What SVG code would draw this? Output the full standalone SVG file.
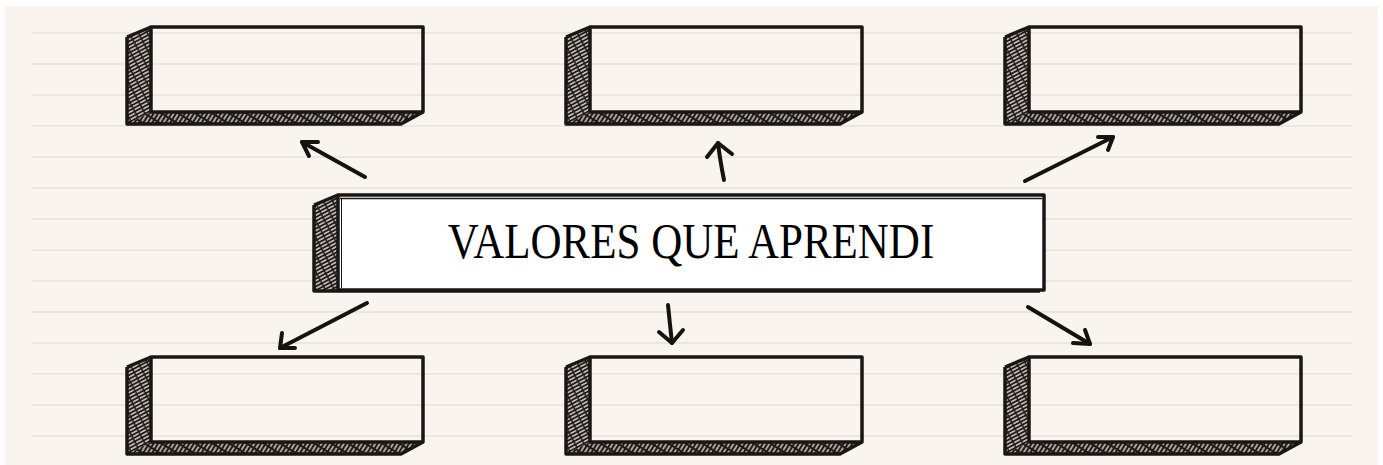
<svg xmlns="http://www.w3.org/2000/svg" xmlns:xlink="http://www.w3.org/1999/xlink" width="1383" height="465" viewBox="0 0 1383 465">
<style>
.rule{stroke:#ece6dc;stroke-width:2}
.front{fill:none;stroke:#1a1614;stroke-width:3.5;stroke-linejoin:round}
.arrow{fill:none;stroke:#151210;stroke-width:4;stroke-linecap:round;stroke-linejoin:round}
.title{font-family:"Liberation Serif","Times New Roman",serif;font-size:43px;fill:#000}
</style>
<defs>
<pattern id="hatchSide" patternUnits="userSpaceOnUse" width="8" height="3.4" patternTransform="rotate(-28)">
<rect width="8" height="3.4" fill="#1e1a18"/>
<line x1="0" y1="1.7" x2="6.5" y2="1.7" stroke="#e2ddd6" stroke-width="1.4"/>
</pattern>
<pattern id="hatchBottom" patternUnits="userSpaceOnUse" width="9" height="3.8" patternTransform="rotate(-58)">
<rect width="9" height="3.8" fill="#1e1a18"/>
<line x1="0" y1="1.9" x2="7" y2="1.9" stroke="#dcd7d0" stroke-width="1.4"/>
</pattern>
<g id="box">
<polygon points="0,10 24,0 24,85 296,85 274,97 0,97" fill="url(#hatchSide)"/>
<polygon points="24,85 296,85 274,97 0,97" fill="url(#hatchBottom)"/>
<polyline points="0,10 24,0" class="front"/>
<polyline points="0,10 0,97 274,97 296,85" class="front" stroke-width="2.5"/>
<rect x="24" y="0" width="272" height="85" class="front" stroke-width="4"/>
</g>
</defs>
<rect width="1383" height="465" fill="#ffffff"/>
<rect x="5" y="6" width="1373" height="459" fill="#f9f5ee"/>
<g id="rules">
<line x1="32" y1="33" x2="1352" y2="33" class="rule"/>
<line x1="32" y1="64" x2="1352" y2="64" class="rule"/>
<line x1="32" y1="95" x2="1352" y2="95" class="rule"/>
<line x1="32" y1="126" x2="1352" y2="126" class="rule"/>
<line x1="32" y1="157" x2="1352" y2="157" class="rule"/>
<line x1="32" y1="188" x2="1352" y2="188" class="rule"/>
<line x1="32" y1="219" x2="1352" y2="219" class="rule"/>
<line x1="32" y1="250" x2="1352" y2="250" class="rule"/>
<line x1="32" y1="281" x2="1352" y2="281" class="rule"/>
<line x1="32" y1="312" x2="1352" y2="312" class="rule"/>
<line x1="32" y1="343" x2="1352" y2="343" class="rule"/>
<line x1="32" y1="374" x2="1352" y2="374" class="rule"/>
<line x1="32" y1="405" x2="1352" y2="405" class="rule"/>
<line x1="32" y1="436" x2="1352" y2="436" class="rule"/>
</g>
<g id="box-top-left"><use xlink:href="#box" href="#box" transform="translate(127,27)"/></g>
<g id="box-top-center"><use xlink:href="#box" href="#box" transform="translate(566,27)"/></g>
<g id="box-top-right"><use xlink:href="#box" href="#box" transform="translate(1005,27)"/></g>
<g id="box-bottom-left"><use xlink:href="#box" href="#box" transform="translate(127,357)"/></g>
<g id="box-bottom-center"><use xlink:href="#box" href="#box" transform="translate(566,357)"/></g>
<g id="box-bottom-right"><use xlink:href="#box" href="#box" transform="translate(1005,357)"/></g>
<g id="center">
<polygon points="314,205 338,195 338,291 314,291" fill="url(#hatchSide)"/>
<polyline points="314,205 338,195" class="front" stroke-width="2.5"/>
<polyline points="314,205 314,291 1040,291" class="front" stroke-width="2.5"/>
<rect x="338" y="195" width="706" height="95" style="fill:#ffffff" class="front" stroke-width="3"/>
<line x1="340" y1="198.5" x2="1042" y2="198.5" stroke="#1a1614" stroke-width="1.5"/>
<line x1="341.5" y1="198" x2="341.5" y2="288" stroke="#1a1614" stroke-width="1"/>
<text x="691" y="258" text-anchor="middle" class="title" transform="translate(0,-51.6) scale(1,1.2)">VALORES QUE APRENDI</text>
</g>
<g id="connectors">
<path class="arrow" d="M365,177 L302,142"/>
<path class="arrow" d="M318,142 L302,142 L309,156"/>
<path class="arrow" d="M724,180 Q720,160 718,143"/>
<path class="arrow" d="M707,157 L718,143 L732,154"/>
<path class="arrow" d="M1025,181 L1113,137"/>
<path class="arrow" d="M1098,137 L1113,137 L1108,150"/>
<path class="arrow" d="M367,303 L280,348"/>
<path class="arrow" d="M282,333 L280,348 L295,348"/>
<path class="arrow" d="M668,305 Q670,325 672,343"/>
<path class="arrow" d="M659,332 L672,343 L683,330"/>
<path class="arrow" d="M1028,307 L1090,344"/>
<path class="arrow" d="M1073,343 L1090,344 L1085,330"/>
</g>
</svg>
